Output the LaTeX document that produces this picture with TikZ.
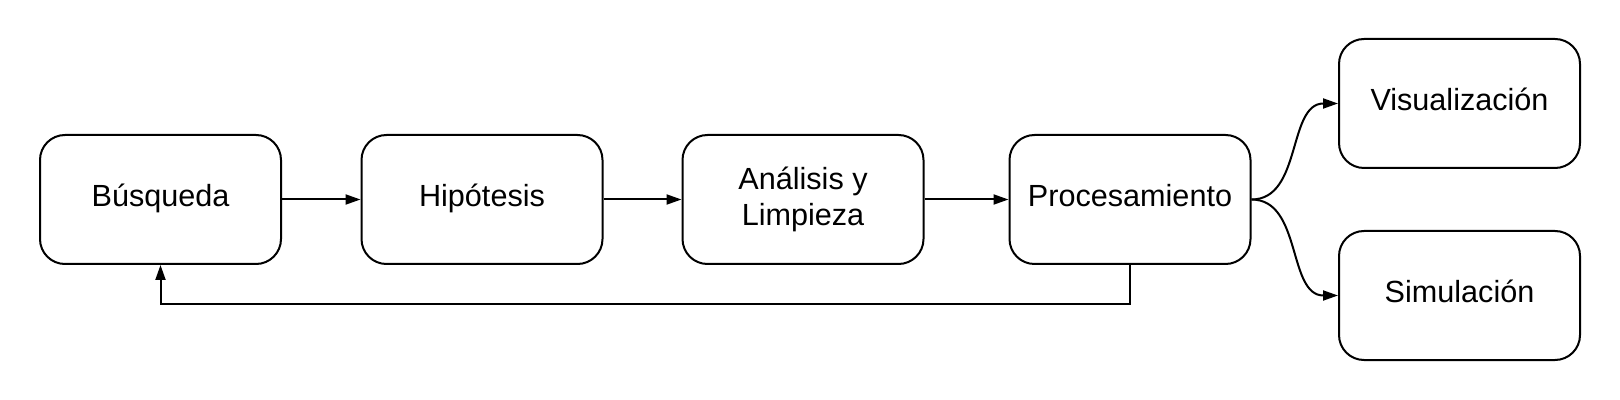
\documentclass[tikz,border=0pt]{standalone}
\usepackage{fontspec}
\setmainfont{Liberation Sans}
\usepackage{tikz}
\usetikzlibrary{arrows.meta,positioning}

\begin{document}
\begin{tikzpicture}[x=0.5pt,y=-0.5pt,
  etapa/.style={draw,line width=1pt,rounded corners=12.5pt,
    minimum width=120.5pt,minimum height=64.5pt,align=center,
    text height=11pt,text depth=4pt,
    font=\fontsize{15.3}{18.3}\selectfont},
  flecha/.style={line width=1pt,-{Triangle[length=7.5pt,width=5pt]}}]
\useasboundingbox (0,0) rectangle (1620,400);
\node[etapa] (busqueda) at (160.5,199.5) {Búsqueda};
\node[etapa] (hipotesis) at (482,199.5) {Hipótesis};
\node[etapa,text height=,text depth=] (analisis) at (803,199.5) {Análisis y\\Limpieza};
\node[etapa] (procesamiento) at (1130,199.5) {Procesamiento};
\node[etapa] (visualizacion) at (1459.5,103.5) {Visualización};
\node[etapa] (simulacion) at (1459.5,295.5) {Simulación};
\draw[flecha] (busqueda) -- (hipotesis);
\draw[flecha] (hipotesis) -- (analisis);
\draw[flecha] (analisis) -- (procesamiento);
\draw[flecha] (procesamiento.east) to[out=0,in=180] (visualizacion.west);
\draw[flecha] (procesamiento.east) to[out=0,in=180] (simulacion.west);
\draw[flecha] (procesamiento.south) -- ++(0,39) -| (busqueda.south);
\end{tikzpicture}
\end{document}
